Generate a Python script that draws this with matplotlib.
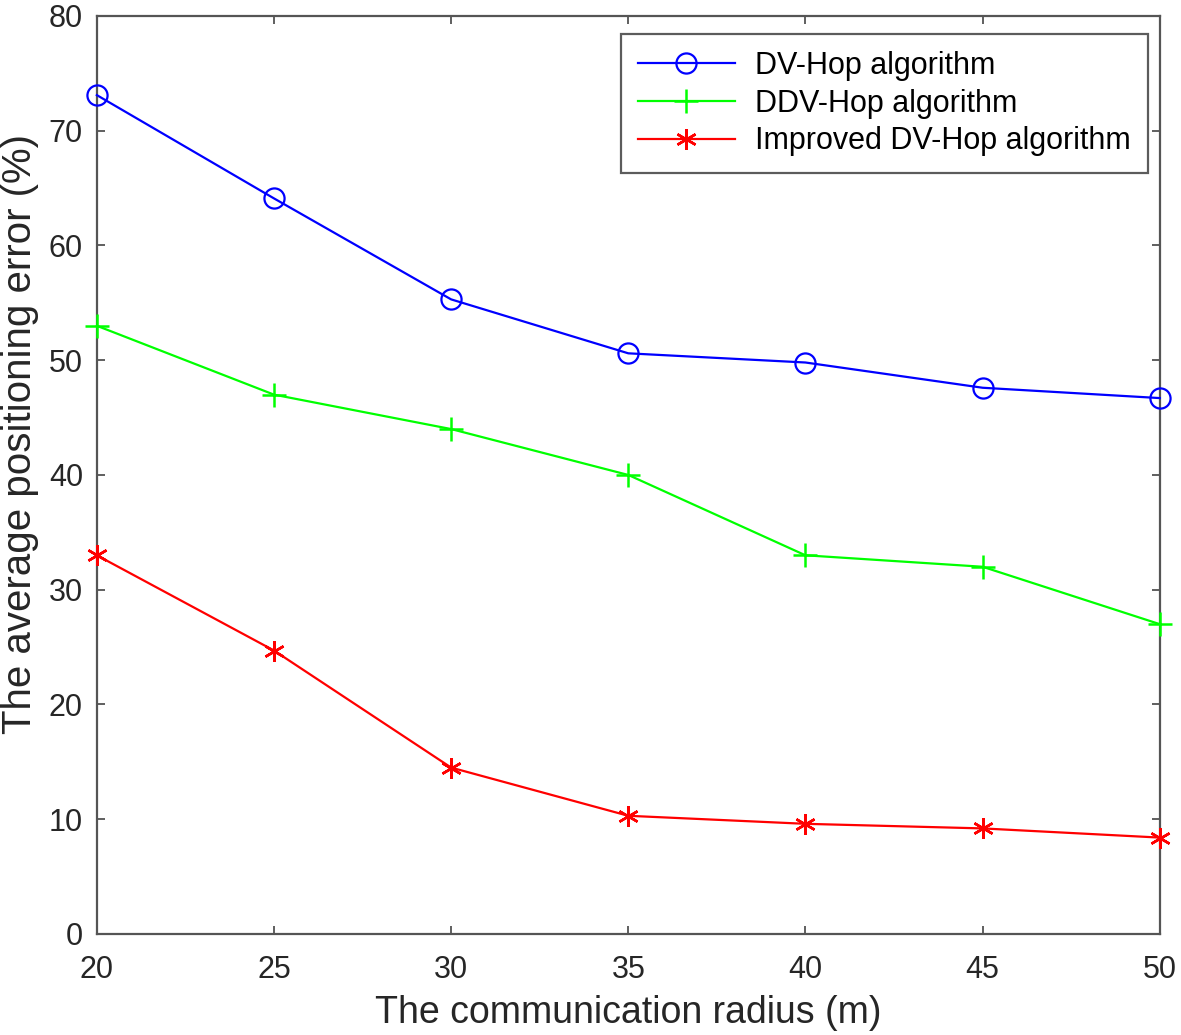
import matplotlib
matplotlib.use("Agg")
import matplotlib.pyplot as plt

radius = [20, 25, 30, 35, 40, 45, 50]
dv_hop = [73.1, 64.1, 55.3, 50.6, 49.8, 47.6, 46.7]
ddv_hop = [53.0, 47.0, 44.0, 40.0, 33.0, 32.0, 27.0]
improved = [33.0, 24.7, 14.5, 10.3, 9.6, 9.2, 8.4]
labels = ["DV-Hop algorithm", "DDV-Hop algorithm", "Improved DV-Hop algorithm"]

plt.rcParams['font.family'] = ['Liberation Sans', 'DejaVu Sans']

fig = plt.figure(figsize=(11.81, 10.35), dpi=100)
ax = fig.add_axes([0.082, 0.0976, 0.9, 0.887])

ax.plot(radius, dv_hop, color='#0000ff', marker='o', markersize=14.5, markerfacecolor='none',
        markeredgewidth=1.6, linewidth=1.6, label=labels[0], clip_on=False, zorder=3)
ax.plot(radius, ddv_hop, color='#00ff00', marker='+', markersize=17, markeredgewidth=1.8,
        linewidth=1.6, label=labels[1], clip_on=False, zorder=3)
ax.plot(radius, improved, color='#ff0000', marker=(6, 2, 0), markersize=15, markeredgewidth=1.8,
        linewidth=1.6, label=labels[2], clip_on=False, zorder=3)

ax.set_xlim(20, 50)
ax.set_ylim(0, 80)
ax.set_xticks(radius)
ax.set_yticks(range(0, 81, 10))
ax.tick_params(direction='in', length=6, width=1.2, color='#444444', labelsize=22,
               labelcolor='#262626', top=True, right=True)
ax.tick_params(axis='x', pad=15)
ax.tick_params(axis='y', pad=10)
for s in ax.spines.values():
    s.set_color('#555555')
    s.set_linewidth(1.6)

ax.set_xlabel("The communication radius (m)", fontsize=27, color='#262626')
ax.xaxis.set_label_coords(0.5, -0.066)
ax.set_ylabel("The average positioning error (%)", fontsize=29, color='#262626')
ax.yaxis.set_label_coords(-0.054, 0.545)

leg = ax.legend(loc='upper right', fontsize=22, frameon=True, fancybox=False,
                borderpad=0.55, handlelength=3.2, labelspacing=0.25, handletextpad=0.65,
                borderaxespad=0.0, bbox_to_anchor=(0.9887, 0.980))
leg.get_frame().set_edgecolor('#333333')
leg.get_frame().set_linewidth(1.6)

fig.savefig("out.png", dpi=100)
